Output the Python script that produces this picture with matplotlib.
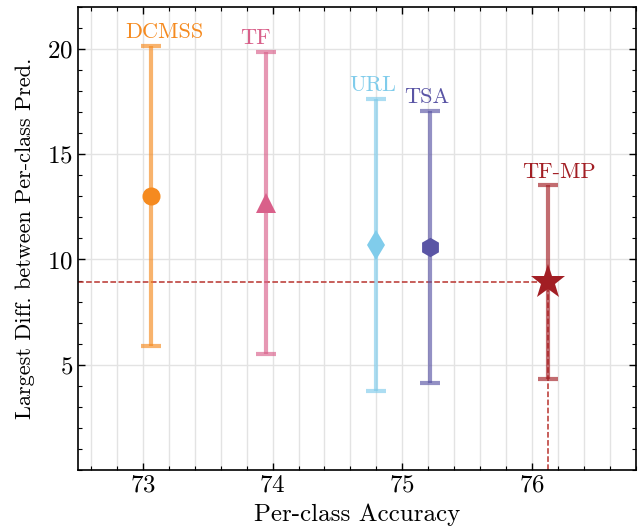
import numpy as np
import matplotlib
matplotlib.use('Agg')
import matplotlib.pyplot as plt
from matplotlib.ticker import MultipleLocator

plt.rcParams['font.family'] = ['cmr10', 'DejaVu Serif']
plt.rcParams['axes.formatter.use_mathtext'] = True
plt.rcParams['mathtext.fontset'] = 'cm'

# data
methods = ['DCMSS', 'TF', 'URL', 'TSA', 'TF-MP']
acc = [73.06, 73.95, 74.80, 75.21, 76.12]
diff = [13.0, 12.7, 10.69, 10.58, 8.93]
err = [7.13, 7.17, 6.93, 6.47, 4.62]
colors = ['#F58A1F', '#D9608A', '#80CCEB', '#5A55A5', '#A21E24']
markers = ['o', '^', 'd', 'h', '*']
msizes = [13, 15, 15, 14, 26]
# label placement (offsets from the top cap)
label_dx = [0.11, -0.08, -0.03, -0.02, 0.09]
label_dy = [0.65, 0.65, 0.65, 0.65, 0.6]

fig = plt.figure(figsize=(6.39, 5.31), dpi=100)
ax = fig.add_axes([0.122, 0.115, 0.873, 0.872])

for i in range(len(methods)) :
    ax.errorbar(acc[i], diff[i], yerr=err[i], fmt='none', ecolor=colors[i],
                elinewidth=3, capsize=7, capthick=3, alpha=0.65, zorder=3)
    ax.plot(acc[i], diff[i], marker=markers[i], ms=msizes[i], color=colors[i],
            mew=0, linestyle='none', zorder=4)
    ax.text(acc[i] + label_dx[i], diff[i] + err[i] + label_dy[i], methods[i],
            color=colors[i], fontsize=16, ha='center', va='center', zorder=5)

ax.set_xlim(72.5, 76.8)
ax.set_ylim(0, 22)

# dashed guides to the best method
best = len(methods) - 1
ax.plot([72.5, acc[best]], [diff[best], diff[best]], '--', color='#B8332E', lw=1.1, zorder=2)
ax.plot([acc[best], acc[best]], [0, diff[best]], '--', color='#B8332E', lw=1.1, zorder=2)

ax.xaxis.set_major_locator(MultipleLocator(1))
ax.xaxis.set_minor_locator(MultipleLocator(0.2))
ax.yaxis.set_major_locator(MultipleLocator(5))
ax.yaxis.set_minor_locator(MultipleLocator(1))
ax.set_yticks([5, 10, 15, 20])

ax.grid(which='major', axis='both', color='#e3e3e3', lw=1, zorder=0)
ax.grid(which='minor', axis='x', color='#e3e3e3', lw=1, zorder=0)
ax.set_axisbelow(True)

ax.tick_params(which='both', direction='in', top=True, right=True, labelsize=18)
ax.tick_params(which='major', length=5, width=1)
ax.tick_params(which='minor', length=3, width=0.8)
for s in ax.spines.values() :
    s.set_linewidth(1.2)

ax.set_xlabel('Per-class Accuracy', fontsize=18, labelpad=5)
ax.set_ylabel('Largest Diff. between Per-class Pred.', fontsize=16, labelpad=9)

fig.savefig('out.png', dpi=100)
